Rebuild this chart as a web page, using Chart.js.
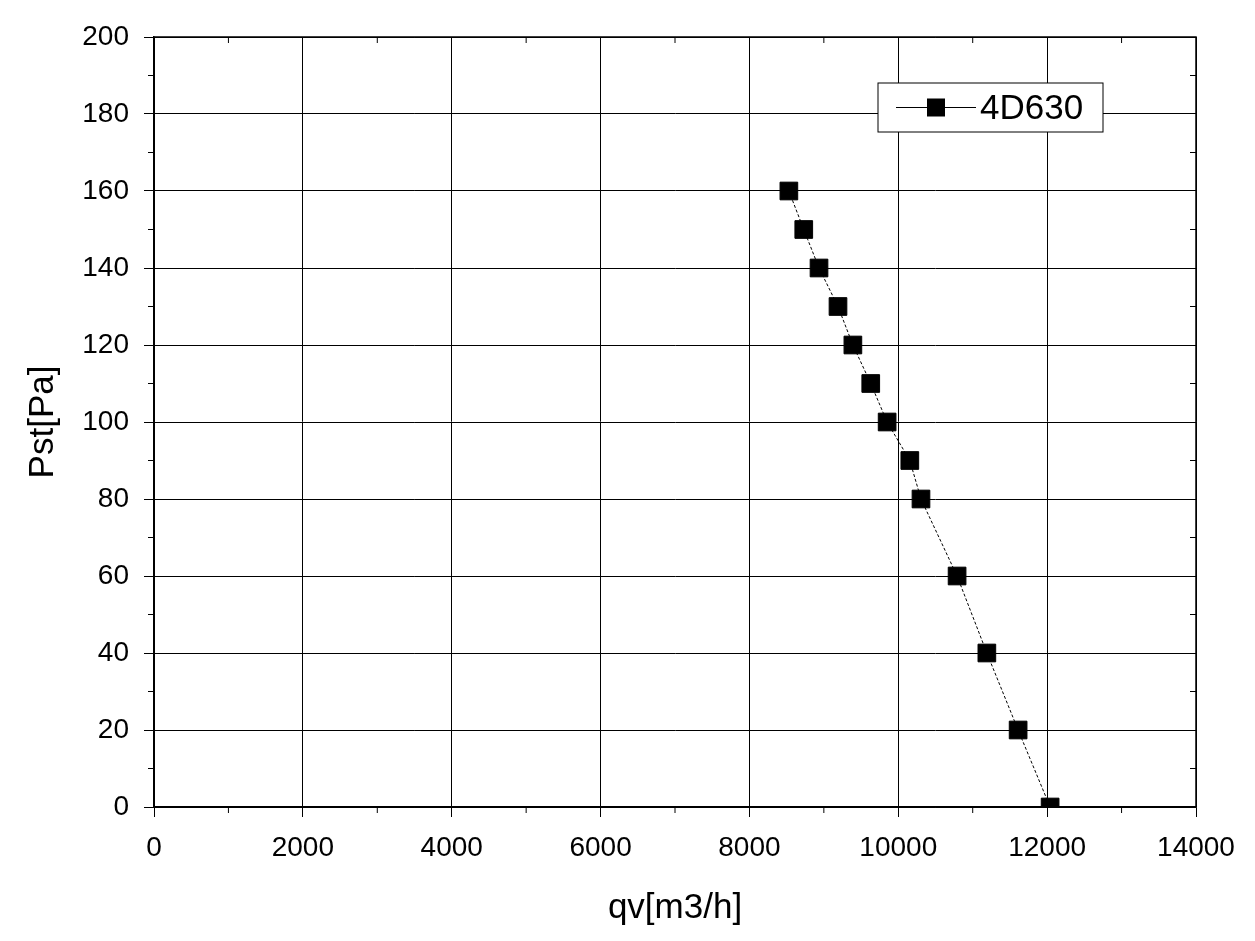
<!DOCTYPE html>
<html lang="en">
<head>
  <meta charset="UTF-8">
  <title>4D630</title>
  <script src="https://cdn.jsdelivr.net/npm/chart.js"></script>
  <style>
    html, body { margin: 0; padding: 0; background: #fff; }
    #wrap { width: 1255px; height: 941px; }
  </style>
</head>
<body>
  <div id="wrap"><canvas id="fanChart"></canvas></div>
  <script>
    // values
    const flowRate = [8530, 8730, 8935, 9190, 9390, 9630, 9850, 10155, 10305, 10790, 11190, 11610, 12040];
    const staticPressure = [160, 150, 140, 130, 120, 110, 100, 90, 80, 60, 40, 20, 0];
    const seriesName = '4D630';

    const points = flowRate.map((x, i) => ({ x: x, y: staticPressure[i] }));
    const FONT = '"Liberation Sans", Arial, sans-serif';

    // draws the boxed legend, frame and minor ticks
    const extras = {
      id: 'extras',
      afterDraw(chart) {
        const { ctx, chartArea: a } = chart;
        ctx.save();
        ctx.strokeStyle = '#000';
        ctx.lineWidth = 1.5;
        ctx.strokeRect(a.left, a.top, a.right - a.left, a.bottom - a.top);
        const xs = chart.scales.x, ys = chart.scales.y;
        ctx.lineWidth = 1;
        for (let v = 1000; v < 14000; v += 2000) {
          const px = xs.getPixelForValue(v);
          ctx.beginPath(); ctx.moveTo(px, a.bottom); ctx.lineTo(px, a.bottom + 6); ctx.stroke();
          ctx.beginPath(); ctx.moveTo(px, a.top); ctx.lineTo(px, a.top + 6); ctx.stroke();
        }
        for (let v = 10; v < 200; v += 20) {
          const py = ys.getPixelForValue(v);
          ctx.beginPath(); ctx.moveTo(a.left, py); ctx.lineTo(a.left - 6, py); ctx.stroke();
          ctx.beginPath(); ctx.moveTo(a.right, py); ctx.lineTo(a.right - 6, py); ctx.stroke();
        }
        // legend box
        const bx = 878, by = 83, bw = 225, bh = 49;
        ctx.fillStyle = '#fff';
        ctx.fillRect(bx, by, bw, bh);
        ctx.strokeRect(bx, by, bw, bh);
        const cy = by + bh / 2;
        ctx.beginPath(); ctx.moveTo(bx + 18, cy); ctx.lineTo(bx + 98, cy); ctx.stroke();
        ctx.fillStyle = '#000';
        ctx.fillRect(bx + 58 - 9, cy - 9, 18, 18);
        ctx.font = '35px ' + FONT;
        ctx.textBaseline = 'middle';
        ctx.fillText(seriesName, bx + 102, cy + 2);
        ctx.restore();
      }
    };

    new Chart(document.getElementById('fanChart'), {
      type: 'scatter',
      data: {
        datasets: [{
          label: seriesName,
          data: points,
          showLine: true,
          borderColor: '#000',
          borderWidth: 1,
          borderDash: [3, 2],
          backgroundColor: '#000',
          pointStyle: 'rect',
          pointRadius: 12.5,
          pointHoverRadius: 12.5
        }]
      },
      options: {
        responsive: true,
        maintainAspectRatio: false,
        animation: false,
        layout: { padding: { left: 0, right: 59, top: 37, bottom: 0 } },
        plugins: { legend: { display: false }, tooltip: { enabled: false } },
        scales: {
          x: {
            type: 'linear', min: 0, max: 14000,
            afterFit: s => { s.height = 134; },
            ticks: { stepSize: 2000, color: '#000', padding: 14, font: { size: 28, family: FONT }, callback: v => String(v) },
            grid: { color: '#000', lineWidth: 1, tickLength: 10 },
            border: { color: '#000', width: 1.5 },
            title: { display: true, text: 'qv[m3/h]', color: '#000', padding: { top: 0, bottom: 12 }, font: { size: 35, family: FONT } }
          },
          y: {
            type: 'linear', min: 0, max: 200,
            afterFit: s => { s.width = 154; },
            ticks: { stepSize: 20, color: '#000', padding: 15, font: { size: 28, family: FONT }, callback: v => String(v) },
            grid: { color: '#000', lineWidth: 1, tickLength: 10 },
            border: { color: '#000', width: 1.5 },
            title: { display: true, text: 'Pst[Pa]', color: '#000', padding: { top: 22, bottom: 0 }, font: { size: 35, family: FONT } }
          }
        }
      },
      plugins: [extras]
    });
  </script>
</body>
</html>
